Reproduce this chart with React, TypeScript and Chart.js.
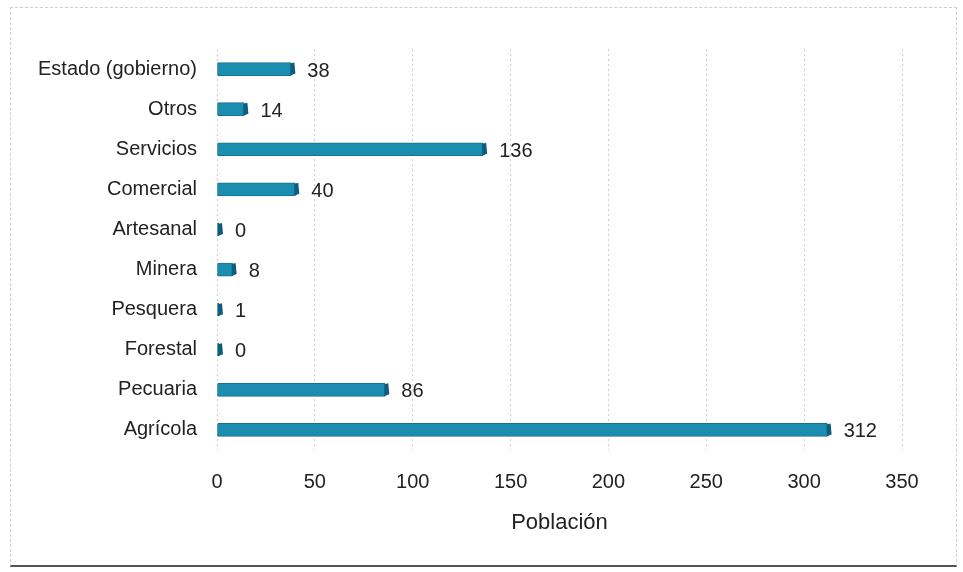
import React, { useEffect, useRef } from "react";
import { Chart, registerables } from "chart.js";

Chart.register(...registerables);

const categories = [
  "Estado (gobierno)",
  "Otros",
  "Servicios",
  "Comercial",
  "Artesanal",
  "Minera",
  "Pesquera",
  "Forestal",
  "Pecuaria",
  "Agrícola",
];
const values = [38, 14, 136, 40, 0, 8, 1, 0, 86, 312];
const xTicks = [0, 50, 100, 150, 200, 250, 300, 350];
const axisTitle = "Población";

const FONT = "'Liberation Sans', Arial, sans-serif";
const CAP = 4;

const barCapsAndLabels = {
  id: "barCapsAndLabels",
  afterDatasetsDraw(chart: any) {
    const ctx = chart.ctx;
    const meta = chart.getDatasetMeta(0);
    ctx.save();
    meta.data.forEach((bar: any, i: number) => {
      const h = bar.height;
      const top = bar.y - h / 2;
      // darker end face to mimic the 3D bar depth
      ctx.fillStyle = "#0f5d7c";
      ctx.beginPath();
      ctx.moveTo(bar.x - 1, top + 1);
      ctx.lineTo(bar.x + CAP - 1, top);
      ctx.lineTo(bar.x + CAP, top + h - 2);
      ctx.lineTo(bar.x - 1, top + h);
      ctx.closePath();
      ctx.fill();
    });
    ctx.font = `20px ${FONT}`;
    ctx.fillStyle = "#222";
    ctx.textBaseline = "middle";
    ctx.textAlign = "left";
    meta.data.forEach((bar: any, i: number) => {
      ctx.fillText(String(values[i]), bar.x + CAP + 12, bar.y + 2);
    });
    ctx.restore();
  },
};

export default function App() {
  const ref = useRef<HTMLCanvasElement>(null);
  useEffect(() => {
    if (!ref.current) return;
    const chart = new Chart(ref.current, {
      type: "bar",
      data: {
        labels: categories,
        datasets: [
          {
            data: values,
            backgroundColor: values.map((v) => (v <= 1 ? "#145f82" : "#1b8db0")),
            borderColor: "#17708f",
            borderWidth: 1,
            borderRadius: 1,
            borderSkipped: false,
            barThickness: 13,
            minBarLength: 2,
          },
        ],
      },
      plugins: [barCapsAndLabels],
      options: {
        indexAxis: "y",
        animation: false,
        responsive: false,
        maintainAspectRatio: false,
        layout: { padding: { top: 49, right: 61, bottom: 36, left: 0 } },
        plugins: { legend: { display: false }, tooltip: { enabled: false } },
        scales: {
          x: {
            min: 0,
            max: 350,
            afterFit(scale: any) {
              scale.height = 86;
            },
            afterBuildTicks(scale: any) {
              scale.ticks = xTicks.map((v) => ({ value: v }));
            },
            grid: {
              color: "#cfcfcf",
              lineWidth: 1,
              drawTicks: false,
              tickLength: 0,
            },
            border: { display: false, dash: [2, 3] },
            ticks: {
              padding: 20,
              color: "#222",
              font: { family: FONT, size: 20 },
            },
            title: {
              display: true,
              text: axisTitle,
              color: "#222",
              font: { family: FONT, size: 22 },
              padding: { top: 8, bottom: 0 },
            },
          },
          y: {
            afterFit(scale: any) {
              scale.width = 217;
            },
            grid: { display: false, drawTicks: false },
            border: { display: false },
            ticks: {
              padding: 20,
              color: "#222",
              font: { family: FONT, size: 20 },
            },
          },
        },
      },
    });
    return () => chart.destroy();
  }, []);
  return (
    <div style={{ position: "fixed", left: 0, top: 0, width: 963, height: 572, background: "#fff" }}>
      <div
        style={{
          position: "absolute",
          left: 10,
          top: 7,
          width: 947,
          height: 560,
          border: "1px dashed #cfcfcf",
          borderBottom: "2px solid #555",
          boxSizing: "border-box",
        }}
      />
      <canvas ref={ref} width={963} height={572} style={{ position: "absolute", left: 0, top: 0 }} />
    </div>
  );
}
